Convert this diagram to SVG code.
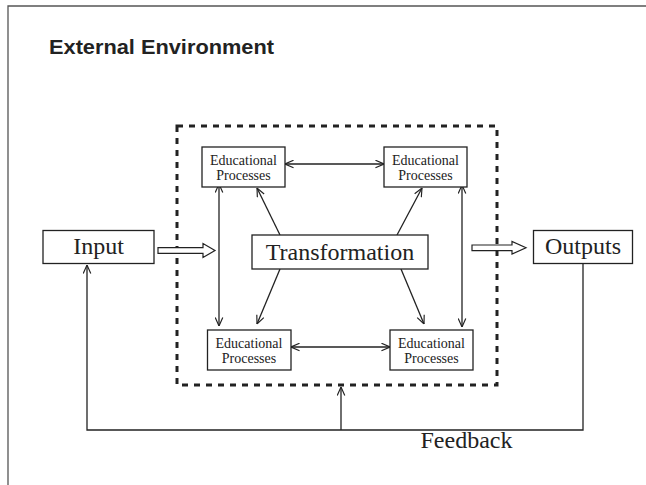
<svg xmlns="http://www.w3.org/2000/svg" width="646" height="485" viewBox="0 0 646 485">
<defs>
<style>
.box{fill:#fff;stroke:#222;stroke-width:1.3}
.ln{fill:none;stroke:#222;stroke-width:1.3}
.big{font-family:"Liberation Serif","Times New Roman",serif;font-size:24px;fill:#222}
.sm{font-family:"Liberation Serif","Times New Roman",serif;font-size:14px;fill:#222}
.hollow{fill:#fff;stroke:#222;stroke-width:1.2}
</style>
<marker id="ah" viewBox="0 0 10 10" refX="10" refY="5" markerWidth="9" markerHeight="9" markerUnits="userSpaceOnUse" orient="auto-start-reverse">
<path d="M0.5,0.8 L10,5 L0.5,9.2" fill="none" stroke="#222" stroke-width="1.3"/>
</marker>
</defs>
<rect width="646" height="485" fill="#fff"/>
<path d="M8,485 V6 H646" fill="none" stroke="#555" stroke-width="1.3"/>
<text x="49" y="54" font-family="'Liberation Sans',Arial,sans-serif" font-weight="bold" font-size="21" fill="#222" textLength="225" lengthAdjust="spacingAndGlyphs">External Environment</text>
<rect id="environment-boundary" x="177" y="126" width="320" height="259" fill="none" stroke="#222" stroke-width="3" stroke-dasharray="6 6"/>
<g id="connectors">
<line class="ln" x1="285" y1="164" x2="384" y2="164" marker-start="url(#ah)" marker-end="url(#ah)"/>
<line class="ln" x1="291" y1="347" x2="390" y2="347" marker-start="url(#ah)" marker-end="url(#ah)"/>
<line class="ln" x1="219" y1="184" x2="219" y2="326" marker-start="url(#ah)" marker-end="url(#ah)"/>
<line class="ln" x1="462" y1="185" x2="462" y2="327" marker-start="url(#ah)" marker-end="url(#ah)"/>
<line class="ln" x1="280" y1="235" x2="257" y2="188" marker-end="url(#ah)"/>
<line class="ln" x1="397" y1="235" x2="422" y2="188" marker-end="url(#ah)"/>
<line class="ln" x1="280" y1="269" x2="257" y2="324" marker-end="url(#ah)"/>
<line class="ln" x1="401" y1="269" x2="424" y2="324" marker-end="url(#ah)"/>
<path class="ln" d="M583,263 V430 H87 V265" marker-end="url(#ah)"/>
<line class="ln" x1="341" y1="430" x2="341" y2="387" marker-end="url(#ah)"/>
<polygon class="hollow" points="158,247.7 203,247.7 203,243.5 215,250.5 203,257.5 203,253.3 158,253.3"/>
<polygon class="hollow" points="472,245 512,245 512,241.5 526,247.8 512,254 512,250.6 472,250.6"/>
</g>
<g id="input">
<rect class="box" x="43" y="230.5" width="111" height="33"/>
<text class="big" x="98.5" y="254" text-anchor="middle">Input</text>
</g>
<g id="outputs">
<rect class="box" x="533.5" y="230.5" width="99" height="33"/>
<text class="big" x="583" y="254" text-anchor="middle" font-size="23">Outputs</text>
</g>
<g id="transformation">
<rect class="box" x="252" y="235" width="176" height="34"/>
<text class="big" x="340" y="260" text-anchor="middle">Transformation</text>
</g>
<g id="ep-top-left">
<rect class="box" x="202" y="147" width="83" height="40"/>
<text class="sm" x="243.5" y="164.5" text-anchor="middle">Educational</text>
<text class="sm" x="243.5" y="179.5" text-anchor="middle">Processes</text>
</g>
<g id="ep-top-right">
<rect class="box" x="384" y="147" width="83" height="40"/>
<text class="sm" x="425.5" y="164.5" text-anchor="middle">Educational</text>
<text class="sm" x="425.5" y="179.5" text-anchor="middle">Processes</text>
</g>
<g id="ep-bottom-left">
<rect class="box" x="207.5" y="330" width="83.5" height="40"/>
<text class="sm" x="249" y="347.5" text-anchor="middle">Educational</text>
<text class="sm" x="249" y="362.5" text-anchor="middle">Processes</text>
</g>
<g id="ep-bottom-right">
<rect class="box" x="390" y="330" width="83" height="40"/>
<text class="sm" x="431.5" y="347.5" text-anchor="middle">Educational</text>
<text class="sm" x="431.5" y="362.5" text-anchor="middle">Processes</text>
</g>
<text class="big" x="466.5" y="447.5" text-anchor="middle" font-size="23">Feedback</text>
</svg>
